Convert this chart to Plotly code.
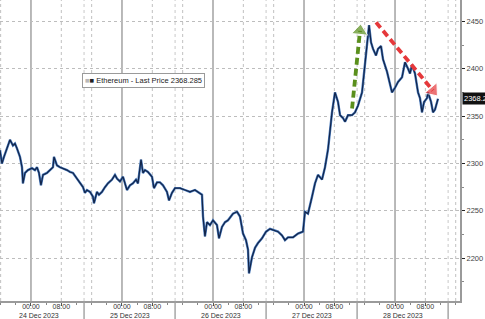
import plotly.graph_objects as go
import pandas as pd

# ---- data ----
times = [
    "2023-12-23 15:50", "2023-12-23 16:21", "2023-12-23 16:53", "2023-12-23 17:40", "2023-12-23 18:28",
    "2023-12-23 19:15", "2023-12-23 19:47", "2023-12-23 20:18", "2023-12-23 21:06", "2023-12-23 21:38",
    "2023-12-23 21:53", "2023-12-23 22:25", "2023-12-23 23:12", "2023-12-24 00:16", "2023-12-24 01:03",
    "2023-12-24 01:35", "2023-12-24 02:07", "2023-12-24 02:38", "2023-12-24 03:10", "2023-12-24 04:13",
    "2023-12-24 05:01", "2023-12-24 05:48", "2023-12-24 06:04", "2023-12-24 06:51", "2023-12-24 07:39",
    "2023-12-24 08:26", "2023-12-24 09:30", "2023-12-24 10:17", "2023-12-24 11:05", "2023-12-24 12:08",
    "2023-12-24 12:55", "2023-12-24 13:43", "2023-12-24 14:14", "2023-12-24 14:46", "2023-12-24 15:34",
    "2023-12-24 16:21", "2023-12-24 16:37", "2023-12-24 17:24", "2023-12-24 17:56", "2023-12-24 18:43",
    "2023-12-24 19:31", "2023-12-24 20:18", "2023-12-24 21:22", "2023-12-24 22:09", "2023-12-24 22:41",
    "2023-12-24 23:28", "2023-12-25 00:16", "2023-12-25 01:19", "2023-12-25 02:07", "2023-12-25 02:54",
    "2023-12-25 03:42", "2023-12-25 04:13", "2023-12-25 05:01", "2023-12-25 05:32", "2023-12-25 06:04",
    "2023-12-25 06:51", "2023-12-25 07:55", "2023-12-25 08:26", "2023-12-25 09:14", "2023-12-25 10:01",
    "2023-12-25 10:49", "2023-12-25 11:52", "2023-12-25 12:24", "2023-12-25 13:11", "2023-12-25 13:59",
    "2023-12-25 15:18", "2023-12-25 16:37", "2023-12-25 17:56", "2023-12-25 19:15", "2023-12-25 20:18",
    "2023-12-25 21:06", "2023-12-25 21:22", "2023-12-25 21:53", "2023-12-25 22:25", "2023-12-25 23:12",
    "2023-12-26 00:00", "2023-12-26 01:03", "2023-12-26 01:35", "2023-12-26 02:22", "2023-12-26 03:10",
    "2023-12-26 03:57", "2023-12-26 05:16", "2023-12-26 06:20", "2023-12-26 07:07", "2023-12-26 07:55",
    "2023-12-26 08:42", "2023-12-26 09:14", "2023-12-26 09:30", "2023-12-26 10:17", "2023-12-26 11:05",
    "2023-12-26 11:52", "2023-12-26 12:55", "2023-12-26 13:59", "2023-12-26 15:02", "2023-12-26 15:49",
    "2023-12-26 17:09", "2023-12-26 18:12", "2023-12-26 18:59", "2023-12-26 19:47", "2023-12-26 21:06",
    "2023-12-26 22:25", "2023-12-26 23:44", "2023-12-27 00:16", "2023-12-27 01:03", "2023-12-27 02:07",
    "2023-12-27 02:54", "2023-12-27 03:41", "2023-12-27 04:45", "2023-12-27 05:32", "2023-12-27 06:20",
    "2023-12-27 07:23", "2023-12-27 08:10", "2023-12-27 08:58", "2023-12-27 09:30", "2023-12-27 10:17",
    "2023-12-27 10:49", "2023-12-27 11:36", "2023-12-27 12:40", "2023-12-27 13:27", "2023-12-27 14:14",
    "2023-12-27 15:18", "2023-12-27 15:49", "2023-12-27 16:37", "2023-12-27 17:09", "2023-12-27 17:40",
    "2023-12-27 18:12", "2023-12-27 18:59", "2023-12-27 19:31", "2023-12-27 20:18", "2023-12-27 20:50",
    "2023-12-27 21:53", "2023-12-27 22:41", "2023-12-27 23:12", "2023-12-28 00:00", "2023-12-28 00:47",
    "2023-12-28 01:51", "2023-12-28 02:38", "2023-12-28 03:26", "2023-12-28 03:57", "2023-12-28 04:29",
    "2023-12-28 05:16", "2023-12-28 06:04", "2023-12-28 06:35", "2023-12-28 07:07", "2023-12-28 07:39",
    "2023-12-28 08:26", "2023-12-28 08:42", "2023-12-28 09:30", "2023-12-28 10:01", "2023-12-28 10:33",
    "2023-12-28 11:05", "2023-12-28 11:20",
]
prices = [
    2314, 2300, 2307, 2317, 2325,
    2319, 2321, 2316, 2307, 2296,
    2279, 2290, 2293, 2295, 2293,
    2296, 2290, 2277, 2288, 2290,
    2293, 2296, 2307, 2298, 2296,
    2295, 2293, 2291, 2290, 2284,
    2280, 2275, 2269, 2272, 2270,
    2265, 2258, 2270, 2267, 2270,
    2275, 2279, 2283, 2288, 2284,
    2281, 2286, 2272, 2277, 2279,
    2283, 2279, 2304, 2290, 2293,
    2291, 2286, 2274, 2280, 2280,
    2277, 2270, 2261, 2269, 2274,
    2274, 2272, 2270, 2272, 2269,
    2267, 2244, 2223, 2238, 2235,
    2240, 2235, 2221, 2233, 2238,
    2240, 2247, 2249, 2244, 2226,
    2219, 2209, 2184, 2201, 2211,
    2216, 2221, 2228, 2231, 2230,
    2228, 2224, 2219, 2222, 2222,
    2226, 2228, 2249, 2247, 2265,
    2279, 2288, 2283, 2296, 2315,
    2354, 2375, 2365, 2351, 2348,
    2344, 2351, 2351, 2354, 2361,
    2375, 2397, 2428, 2446, 2428,
    2421, 2414, 2421, 2424, 2410,
    2397, 2383, 2375, 2380, 2386,
    2391, 2407, 2400, 2395, 2404,
    2395, 2375, 2369, 2354, 2365,
    2369, 2375, 2365, 2354, 2357,
    2365, 2368.285,
]
last_price = 2368.285
series_name = "Ethereum - Last Price"

days = ["2023-12-24", "2023-12-25", "2023-12-26", "2023-12-27", "2023-12-28"]
day_labels = ["24 Dec 2023", "25 Dec 2023", "26 Dec 2023", "27 Dec 2023", "28 Dec 2023"]
y_ticks = [2200, 2250, 2300, 2350, 2400, 2450]

# annotation arrows (start, end) in data coordinates
green_arrow_x = ["2023-12-27 12:40", "2023-12-27 14:46"]
green_arrow_y = [2358, 2440]
red_arrow_x = ["2023-12-27 19:00", "2023-12-28 10:00"]
red_arrow_y = [2449, 2377]

x_range = ["2023-12-23 15:50", "2023-12-28 17:08"]
y_range = [2154.8, 2472.6]

# ---- figure ----
fig = go.Figure()

fig.add_trace(go.Scatter(x=times, y=prices, mode="lines",
                         line=dict(color="#4a7bbd", width=2.4), hoverinfo="skip"))
fig.add_trace(go.Scatter(x=times, y=prices, mode="lines",
                         line=dict(color="#12254a", width=1.2)))

for ax_, ay_, col in [(green_arrow_x, green_arrow_y, "#5a8f1c"), (red_arrow_x, red_arrow_y, "#e5383b")]:
    fig.add_trace(go.Scatter(
        x=ax_, y=ay_, mode="lines+markers",
        line=dict(color=col, width=3.8, dash="7px,4px"),
        marker=dict(symbol="triangle-up", size=[0, 14], color=col, angleref="previous"),
        hoverinfo="skip"))

shapes = []
all_days = ["2023-12-23"] + days
for d in all_days:
    dt = pd.Timestamp(d)
    shapes.append(dict(type="line", xref="x", yref="paper", x0=dt, x1=dt, y0=0, y1=1,
                       line=dict(color="#a8a8a8", width=1.6), layer="below"))
    for h in (8, 16):
        t = dt + pd.Timedelta(hours=h)
        shapes.append(dict(type="line", xref="x", yref="paper", x0=t, x1=t, y0=0, y1=1,
                           line=dict(color="#c0c0c0", width=1, dash="dot"), layer="below"))
    t = dt + pd.Timedelta(hours=14)
    shapes.append(dict(type="line", xref="x", yref="paper", x0=t, x1=t, y0=0, y1=1,
                       line=dict(color="#c8c8c8", width=1, dash="dot"), layer="below"))
    shapes.append(dict(type="line", xref="x", yref="paper", x0=t, x1=t, y0=-0.07, y1=0,
                       line=dict(color="#a0a0a0", width=1.4)))

annotations = []
for d, lab in zip(days, day_labels):
    annotations.append(dict(x=pd.Timestamp(d) + pd.Timedelta(hours=2), y=0, xref="x", yref="paper",
                            yshift=-14.5, text=lab, showarrow=False, yanchor="middle",
                            font=dict(family="Liberation Sans", size=7, color="#333")))

annotations.append(dict(
    x=0.178, y=0.731, xref="paper", yref="paper", xanchor="left", yanchor="middle",
    text="<span style='color:#b8b8b8'>■</span>■ " + series_name + " " + f"{last_price:.3f}",
    showarrow=False, bgcolor="white", bordercolor="#9a9a9a", borderwidth=1, borderpad=2,
    font=dict(family="Liberation Sans", size=7.5, color="#222")))

annotations.append(dict(
    x=1, y=last_price, xref="paper", yref="y", xanchor="left", yanchor="middle", xshift=2,
    text=f"{last_price:.3f}", showarrow=False, bgcolor="#111", borderpad=1,
    font=dict(family="Liberation Sans", size=7.5, color="white")))

tickvals, ticktext = [], []
for d in days:
    dt = pd.Timestamp(d)
    tickvals += [dt, dt + pd.Timedelta(hours=8)]
    ticktext += ["00:00", "08:00"]

fig.update_layout(
    width=485, height=319,
    margin=dict(l=0, r=25, t=0, b=18),
    paper_bgcolor="white", plot_bgcolor="white",
    showlegend=False,
    shapes=shapes, annotations=annotations,
    xaxis=dict(range=x_range, type="date", tickvals=tickvals, ticktext=ticktext,
               showgrid=False, zeroline=False, showline=True, linecolor="#9a9a9a", linewidth=1.5,
               ticks="outside", ticklen=3, tickcolor="#555", ticklabelstandoff=-5,
               tickfont=dict(family="Liberation Sans", size=7, color="#333"),
               minor=dict(ticks="outside", ticklen=2, tickcolor="#888", dtick=4 * 3600 * 1000,
                          showgrid=False)),
    yaxis=dict(range=y_range, side="right", tickvals=y_ticks, showgrid=True,
               gridcolor="#bdbdbd", griddash="dot", gridwidth=1, zeroline=False,
               showline=True, linecolor="#9a9a9a", linewidth=2,
               ticks="outside", ticklen=3, tickcolor="#222",
               tickfont=dict(family="Liberation Sans", size=7.5, color="#444"),
               minor=dict(ticks="outside", ticklen=2, tickcolor="#888", dtick=25, showgrid=False)),
)

fig.write_html("out.html")
